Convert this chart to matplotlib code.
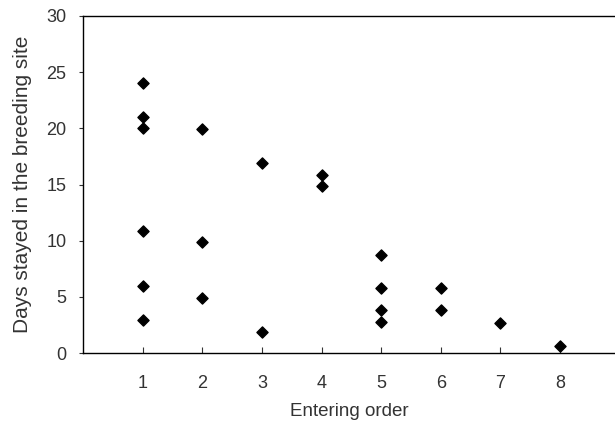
import matplotlib
matplotlib.use("Agg")
import matplotlib.pyplot as plt

# entering order and days stayed in the breeding site
order = [1, 1, 1, 1, 1, 1,
         2, 2, 2,
         3, 3,
         4, 4,
         5, 5, 5, 5,
         6, 6,
         7,
         8]
days = [24, 21, 20, 10.9, 6, 2.9,
        19.9, 9.9, 4.9,
        16.9, 1.9,
        15.85, 14.9,
        8.75, 5.8, 3.8, 2.8,
        5.8, 3.8,
        2.7,
        0.6]

x_ticks = [1, 2, 3, 4, 5, 6, 7, 8]
y_ticks = [0, 5, 10, 15, 20, 25, 30]

plt.rcParams["font.family"] = ["Liberation Sans", "DejaVu Sans"]

fig = plt.figure(figsize=(6.15, 4.25), dpi=100)
ax = fig.add_axes([83 / 615, 72 / 425, 1 - 83 / 615, 337 / 425])

ax.scatter(order, days, marker="D", s=32, color="black", zorder=3, clip_on=False)

ax.set_xlim(0, 8.92)
ax.set_ylim(0, 30)
ax.set_xticks(x_ticks)
ax.set_yticks(y_ticks)

ax.spines["right"].set_visible(False)
for s in ["left", "bottom", "top"]:
    ax.spines[s].set_linewidth(1.0)

ax.tick_params(axis="x", direction="in", length=4, labelsize=13, pad=16, colors="#333333")
ax.tick_params(axis="y", direction="out", length=3, labelsize=13, pad=9, colors="#333333")

ax.set_xlabel("Entering order", fontsize=13.5, color="#333333", labelpad=8)
ax.set_ylabel("Days stayed in the breeding site", fontsize=15, color="#333333", labelpad=10)

fig.savefig("out.png", dpi=100)
